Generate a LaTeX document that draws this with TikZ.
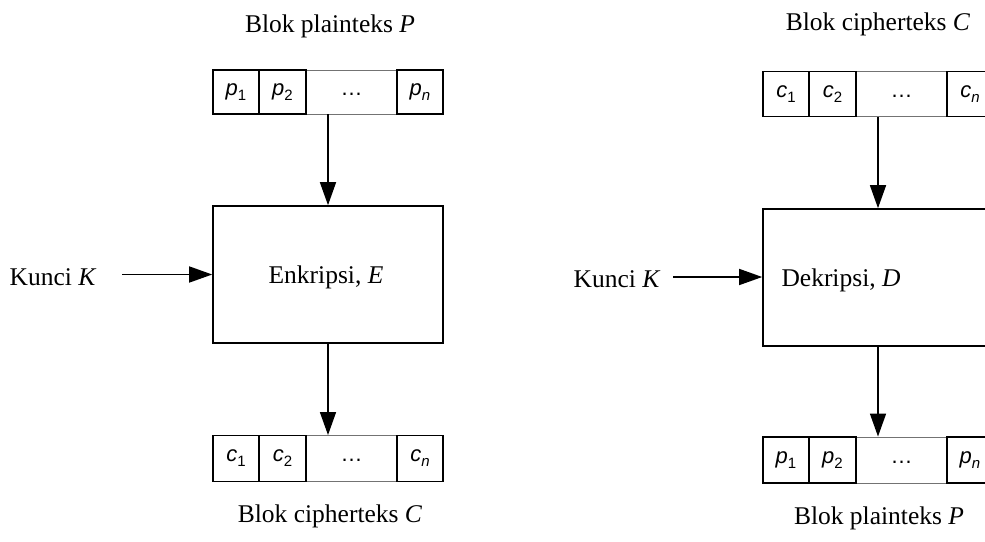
\documentclass[tikz,border=0pt]{standalone}
\usepackage{fontspec}
\setmainfont{Liberation Serif}
\setsansfont{Liberation Sans}
\usetikzlibrary{arrows.meta}

\tikzset{
  lbl/.style={font=\fontsize{25.5}{30}\selectfont, inner sep=0pt, anchor=base},
  blockrow/.style={draw=black!55, line width=0.9pt, minimum width=230pt, inner sep=0pt},
  cell/.style={draw, line width=1.4pt, inner sep=0pt,
    font=\sffamily\fontsize{22}{26}\selectfont},
  dotcell/.style={inner sep=0pt, font=\sffamily\fontsize{22}{26}\selectfont},
  proc/.style={draw, line width=1.6pt, minimum width=230pt, minimum height=137pt, inner sep=0pt,
    font=\fontsize{25.5}{30}\selectfont},
  arr/.style={line width=1.5pt, -{Triangle[length=23pt,width=16pt]}}
}

% indexed symbol inside a cell
\newcommand\idx[2]{\textit{#1}\raisebox{-5pt}{\fontsize{15}{17}\selectfont #2}}

% one row of blocks: name prefix, centre y, height, left x, symbol
\newcommand\blockrow[5]{%
  \node[blockrow, minimum height=#3pt] (#1) at (#4+115,#2) {};
  \node[cell, minimum width=46pt, minimum height=#3pt] (#1a) at (#4+23,#2) {\idx{#5}{1}};
  \node[cell, minimum width=47pt, minimum height=#3pt] (#1b) at (#4+69.5,#2) {\idx{#5}{2}};
  \node[dotcell, minimum width=91pt, minimum height=#3pt] (#1c) at (#4+138.5,#2+2) {\ldots};
  \node[cell, minimum width=46pt, minimum height=#3pt] (#1d) at (#4+207,#2) {\idx{#5}{\textit{n}}};
}

\begin{document}
\begin{tikzpicture}[x=1pt,y=-1pt]
  \clip (0,0) rectangle (985,541);
  \fill[white] (0,0) rectangle (985,541);

  % ---- encryption ----
  \node[lbl] (tpa) at (330,32) {Blok plainteks \textit{P}};
  \blockrow{pin}{92}{44}{213}{p}
  \node[proc] (enc) at (328,274.5) {};
  \node[lbl] (enctxt) at (326,283) {Enkripsi, \textit{E}};
  \node[lbl] (ka) at (53,285) {Kunci \textit{K}};
  \coordinate (kas) at (122,274.5);
  \blockrow{cout}{458.5}{46}{213}{c}
  \node[lbl] (tca) at (330,522) {Blok cipherteks \textit{C}};

  \draw[arr] (pin.south) -- (enc.north);
  \draw[arr] (kas) -- (enc.west);
  \draw[arr] (enc.south) -- (cout.north);

  % ---- decryption ----
  \node[lbl] (tcb) at (878,30) {Blok cipherteks \textit{C}};
  \blockrow{cin}{94}{45}{763}{c}
  \node[proc] (dec) at (878,277.5) {};
  \node[lbl] (dectxt) at (841,286) {Dekripsi, \textit{D}};
  \node[lbl] (kb) at (617,287) {Kunci \textit{K}};
  \coordinate (kbs) at (673,277);
  \blockrow{pout}{460}{46}{763}{p}
  \node[lbl] (tpb) at (879,524) {Blok plainteks \textit{P}};

  \draw[arr] (cin.south) -- (dec.north);
  \draw[arr] (kbs) -- (dec.west |- kbs);
  \draw[arr] (dec.south) -- (pout.north);
\end{tikzpicture}
\end{document}
